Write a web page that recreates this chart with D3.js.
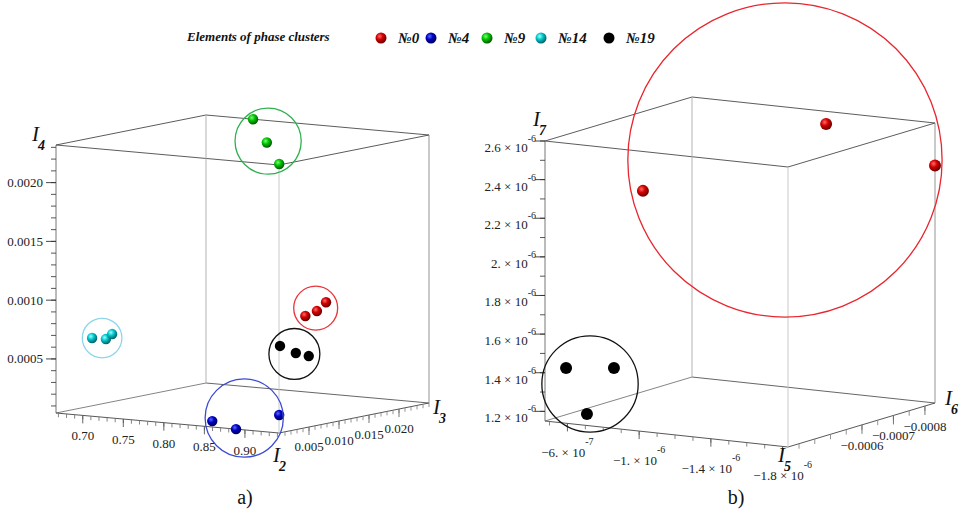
<!DOCTYPE html>
<html><head><meta charset="utf-8">
<script src="https://cdn.jsdelivr.net/npm/d3@7"></script>
<style>
body{margin:0;background:#fff;}
svg{display:block;font-family:"Liberation Serif","Times New Roman",serif;}
</style>
</head><body>
<svg id="chart" width="959" height="517"></svg>
<script>
// ---- data -------------------------------------------------------------
const clusterNames = ["№0", "№4", "№9", "№14", "№19"];

// panel a) : invariants I2, I3, I4 of the cluster elements
const aCluster = ["№0","№0","№0","№4","№4","№4","№9","№9","№9","№14","№14","№14","№19","№19","№19"];
const aI2 = [0.919, 0.924, 0.926, 0.856, 0.889, 0.933, 0.725, 0.816, 0.933, 0.693, 0.710, 0.714, 0.934, 0.935, 0.938];
const aI3 = [0.0075, 0.00875, 0.0100, 0.0005, 0.0000, 0.00125, 0.0250, 0.0150, 0.00125, 0.0025, 0.0025, 0.0030, 0.00125, 0.00375, 0.0055];
const aI4 = [0.000945, 0.000977, 0.00104, 0.000083, 0.00004, 0.000175, 0.00232, 0.00228, 0.00231, 0.000669, 0.00067, 0.00071, 0.000763, 0.000678, 0.000636];

// panel b) : invariants I5, I6, I7
const bCluster = ["№0","№0","№0","№19","№19","№19"];
const bI5 = [-1.021e-6, -1.386e-6, -1.83e-6, -4.75e-7, -7.77e-7, -5.51e-7];
const bI6 = [-0.000365, -0.000739, -0.000832, -0.000432, -0.000412, -0.000455];
const bI7 = [2.396e-6, 2.596e-6, 2.38e-6, 1.392e-6, 1.431e-6, 1.15e-6];

// axis ranges
const I2Domain = [0.667, 0.942];
const I3Domain = [0, 0.025];
const I4Domain = [0.00004, 0.00232];
const I5Domain = [-4.75e-7, -1.83e-6];
const I6Domain = [-0.000365, -0.000832];
const I7Domain = [1.15e-6, 2.6e-6];

// tick values and labels
const I2Ticks = [0.70, 0.75, 0.80, 0.85, 0.90];
const I2TickLabels = ["0.70", "0.75", "0.80", "0.85", "0.90"];
const I3Ticks = [0.005, 0.010, 0.015, 0.020];
const I3TickLabels = ["0.005", "0.010", "0.015", "0.020"];
const I4Ticks = [0.0005, 0.0010, 0.0015, 0.0020];
const I4TickLabels = ["0.0005", "0.0010", "0.0015", "0.0020"];
const I5Ticks = [-6e-7, -1e-6, -1.4e-6, -1.8e-6];
const I5TickMant = ["\u22126.", "\u22121.", "\u22121.4", "\u22121.8"];
const I5TickExp = ["-7", "-6", "-6", "-6"];
const I6Ticks = [-0.0006, -0.0007, -0.0008];
const I6TickLabels = ["\u22120.0006", "\u22120.0007", "\u22120.0008"];
const I7Ticks = [1.2e-6, 1.4e-6, 1.6e-6, 1.8e-6, 2.0e-6, 2.2e-6, 2.4e-6, 2.6e-6];
const I7TickMant = ["1.2", "1.4", "1.6", "1.8", "2.", "2.2", "2.4", "2.6"];
const I7TickExp = ["-6", "-6", "-6", "-6", "-6", "-6", "-6", "-6"];

// minor tick steps
const I2Minor = d3.range(67, 95, 1).map(d => d / 100);
const I3Minor = d3.range(1, 26, 1).map(d => d / 1000);
const I4Minor = d3.range(1, 24, 1).map(d => d / 10000);
const I5Minor = d3.range(5, 19, 1).map(d => -d * 1e-7);
const I6Minor = d3.range(8, 17, 1).map(d => -d * 5e-5);
const I7Minor = d3.range(12, 27, 1).map(d => d * 1e-7);

// ---- styles -----------------------------------------------------------
const ballColors = {
  "№0":  ["#ff6a6a", "#d40000", "#6a0000"],
  "№4":  ["#5a6aff", "#0000c4", "#00005a"],
  "№9":  ["#7aff7a", "#00c400", "#005a00"],
  "№14": ["#a0ffff", "#00c8cc", "#006066"],
  "№19": ["#000000", "#000000", "#000000"]
};
const ringStyle = {
  a: {"№0": {c:"#e8343a", dx:0, dy:-1, pad:9}, "№4": {c:"#3a4ad6", dx:-1.5, dy:-4, pad:4},
      "№9": {c:"#2fb050", dx:2, dy:-0.5, pad:6.5}, "№14": {c:"#8ed6ea", dx:0, dy:1.5, pad:9},
      "№19": {c:"#111111", dx:0, dy:3, pad:9}},
  b: {"№0": {c:"#e8262e", dx:-4, dy:2.5, pad:7}, "№19": {c:"#111111", dx:0, dy:-7, pad:18}}
};

const svg = d3.select("#chart");
const defs = svg.append("defs");
Object.entries(ballColors).forEach(([k, c], i) => {
  const g = defs.append("radialGradient").attr("id", "ball" + i)
    .attr("cx", "38%").attr("cy", "35%").attr("r", "65%");
  g.append("stop").attr("offset", "0%").attr("stop-color", c[0]);
  g.append("stop").attr("offset", "45%").attr("stop-color", c[1]);
  g.append("stop").attr("offset", "100%").attr("stop-color", c[2]);
});
const ballFill = k => "url(#ball" + clusterNames.indexOf(k) + ")";

// ---- oblique 3D frame --------------------------------------------------
function frame(o, U, V, W) {
  return (u, v, w) => [o[0] + u * U[0] + v * V[0] + w * W[0],
                       o[1] + u * U[1] + v * V[1] + w * W[1]];
}

function drawBox(g, P) {
  const e = [
    // [from, to, colour]
    [[0,0,1],[1,0,1],"#4a4a4a"], [[1,0,1],[1,1,1],"#4a4a4a"],
    [[1,1,1],[0,1,1],"#4a4a4a"], [[0,1,1],[0,0,1],"#4a4a4a"],
    [[0,1,0],[0,0,0],"#777"],    [[0,1,0],[1,1,0],"#555"],
    [[0,0,0],[1,0,0],"#444"],    [[1,0,0],[1,1,0],"#444"],
    [[0,0,0],[0,0,1],"#666"],    [[0,1,0],[0,1,1],"#aaa"],
    [[1,0,0],[1,0,1],"#c4c4c4"], [[1,1,0],[1,1,1],"#888"]
  ];
  e.forEach(([a, b, c]) => {
    const p = P(...a), q = P(...b);
    g.append("line").attr("x1", p[0]).attr("y1", p[1]).attr("x2", q[0]).attr("y2", q[1])
      .attr("stroke", c).attr("stroke-width", 0.9);
  });
}

function tickLines(g, pts, dx, dy, col) {
  g.selectAll(null).data(pts).join("line")
    .attr("x1", d => d[0]).attr("y1", d => d[1])
    .attr("x2", d => d[0] + dx).attr("y2", d => d[1] + dy)
    .attr("stroke", col).attr("stroke-width", 0.9);
}

function drawBalls(g, P, pts, r) {
  g.selectAll(null).data(pts).join("circle")
    .attr("cx", d => P(d.u, d.v, d.w)[0]).attr("cy", d => P(d.u, d.v, d.w)[1])
    .attr("r", r).attr("fill", d => ballFill(d.k));
}

function drawRings(g, P, pts, styles) {
  Object.entries(styles).forEach(([k, s]) => {
    const xy = pts.filter(d => d.k === k).map(d => P(d.u, d.v, d.w));
    const cx = (d3.min(xy, d => d[0]) + d3.max(xy, d => d[0])) / 2 + s.dx;
    const cy = (d3.min(xy, d => d[1]) + d3.max(xy, d => d[1])) / 2 + s.dy;
    const r = d3.max(xy, d => Math.hypot(d[0] - cx, d[1] - cy)) + s.pad;
    g.append("circle").attr("cx", cx).attr("cy", cy).attr("r", r)
      .attr("fill", "none").attr("stroke", s.c).attr("stroke-width", 1.3);
  });
}

// italic axis name with a bold subscript tucked under its right side
function axisTitle(g, x, y, sub) {
  g.append("text").attr("x", x).attr("y", y)
    .attr("font-size", 21).attr("font-style", "italic").attr("fill", "#111").text("I");
  g.append("text").attr("x", x + 6).attr("y", y + 9)
    .attr("font-size", 14).attr("font-style", "italic").attr("font-weight", "bold")
    .attr("fill", "#111").text(sub);
}

// ---- panel a ------------------------------------------------------------
{
  const g = svg.append("g");
  const P = frame([56, 413], [223, 20], [150, -30], [0, -268]);
  const sx = d3.scaleLinear().domain(I2Domain).range([0, 1]);
  const sy = d3.scaleLinear().domain(I3Domain).range([0, 1]);
  const sz = d3.scaleLinear().domain(I4Domain).range([0, 1]);
  drawBox(g, P);

  // I4 along the left vertical edge
  tickLines(g, I4Minor.map(d => P(0, 0, sz(d))), -5, 0, "#444");
  tickLines(g, I4Ticks.map(d => P(0, 0, sz(d))), -10, 0, "#333");
  g.selectAll(null).data(I4Ticks).join("text")
    .attr("x", d => P(0, 0, sz(d))[0] - 13).attr("y", d => P(0, 0, sz(d))[1] + 4.5)
    .attr("text-anchor", "end").attr("font-size", 13).attr("fill", "#222")
    .text((d, i) => I4TickLabels[i]);

  // I2 along the front-left bottom edge
  tickLines(g, I2Minor.map(d => P(sx(d), 0, 0)), 0, 4, "#777");
  tickLines(g, I2Ticks.map(d => P(sx(d), 0, 0)), 0, 8, "#555");
  g.selectAll(null).data(I2Ticks).join("text")
    .attr("x", d => P(sx(d), 0, 0)[0]).attr("y", d => P(sx(d), 0, 0)[1] + 25)
    .attr("text-anchor", "middle").attr("font-size", 13).attr("fill", "#222")
    .text((d, i) => I2TickLabels[i]);

  // I3 along the front-right bottom edge
  tickLines(g, I3Minor.map(d => P(1, sy(d), 0)), 0, 4, "#888");
  tickLines(g, I3Ticks.map(d => P(1, sy(d), 0)), 0, 8, "#666");
  g.selectAll(null).data(I3Ticks).join("text")
    .attr("x", d => P(1, sy(d), 0)[0]).attr("y", d => P(1, sy(d), 0)[1] + 24)
    .attr("text-anchor", "middle").attr("font-size", 13).attr("fill", "#222")
    .text((d, i) => I3TickLabels[i]);

  axisTitle(g, 32, 141, "4");
  axisTitle(g, 273, 462, "2");
  axisTitle(g, 433, 414, "3");

  const pts = aI2.map((d, i) => ({k: aCluster[i], u: sx(d), v: sy(aI3[i]), w: sz(aI4[i])}));
  drawBalls(g, P, pts, 5.2);
  drawRings(g, P, pts, ringStyle.a);

  g.append("text").attr("x", 245).attr("y", 504).attr("text-anchor", "middle")
    .attr("font-size", 20).attr("fill", "#111").text("a)");
}

// ---- panel b ------------------------------------------------------------
{
  const g = svg.append("g");
  const P = frame([545, 421], [243, 26], [147, -44], [0, -280]);
  const sx = d3.scaleLinear().domain(I5Domain).range([0, 1]);
  const sy = d3.scaleLinear().domain(I6Domain).range([0, 1]);
  const sz = d3.scaleLinear().domain(I7Domain).range([0, 1]);
  drawBox(g, P);

  // I7 along the left vertical edge
  tickLines(g, I7Minor.map(d => P(0, 0, sz(d))), -5, 0, "#444");
  tickLines(g, I7Ticks.map(d => P(0, 0, sz(d))), -10, 0, "#333");
  const t7 = g.selectAll(null).data(I7Ticks).join("text")
    .attr("x", d => P(0, 0, sz(d))[0] - 9).attr("y", d => P(0, 0, sz(d))[1] + 11)
    .attr("text-anchor", "end").attr("font-size", 13).attr("fill", "#222");
  t7.append("tspan").text((d, i) => I7TickMant[i] + " \u00d7 10");
  t7.append("tspan").attr("dy", -10).attr("font-size", 10).text((d, i) => I7TickExp[i]);

  // I5 along the front-left bottom edge
  tickLines(g, I5Minor.map(d => P(sx(d), 0, 0)), 0, 4, "#777");
  tickLines(g, I5Ticks.map(d => P(sx(d), 0, 0)), 0, 8, "#555");
  const t5 = g.selectAll(null).data(I5Ticks).join("text")
    .attr("x", d => P(sx(d), 0, 0)[0]).attr("y", d => P(sx(d), 0, 0)[1] + 34)
    .attr("text-anchor", "middle").attr("font-size", 13).attr("fill", "#222");
  t5.append("tspan").text((d, i) => I5TickMant[i] + " \u00d7 10");
  t5.append("tspan").attr("dy", -12).attr("font-size", 10).text((d, i) => I5TickExp[i]);

  // I6 along the front-right bottom edge
  tickLines(g, I6Minor.map(d => P(1, sy(d), 0)), 0, 5, "#888");
  tickLines(g, I6Ticks.map(d => P(1, sy(d), 0)), 0, 9, "#666");
  g.selectAll(null).data(I6Ticks).join("text")
    .attr("x", d => P(1, sy(d), 0)[0]).attr("y", d => P(1, sy(d), 0)[1] + 25)
    .attr("text-anchor", "middle").attr("font-size", 13).attr("fill", "#222")
    .text((d, i) => I6TickLabels[i]);

  axisTitle(g, 533, 126, "7");
  axisTitle(g, 778, 462, "5");
  axisTitle(g, 945, 405, "6");

  const pts = bI5.map((d, i) => ({k: bCluster[i], u: sx(d), v: sy(bI6[i]), w: sz(bI7[i])}));
  drawBalls(g, P, pts, 6);
  drawRings(g, P, pts, ringStyle.b);

  g.append("text").attr("x", 736).attr("y", 504).attr("text-anchor", "middle")
    .attr("font-size", 20).attr("fill", "#111").text("b)");
}

// ---- legend -------------------------------------------------------------
{
  const g = svg.append("g");
  const markerX = [381, 431, 487, 541, 609];
  g.append("text").attr("x", 187).attr("y", 41)
    .attr("font-size", 13).attr("font-style", "italic").attr("font-weight", "bold")
    .attr("fill", "#111").text("Elements of phase clusters");
  const it = g.selectAll(null).data(clusterNames).join("g")
    .attr("transform", (d, i) => `translate(${markerX[i]},38)`);
  it.append("circle").attr("r", 5.5).attr("fill", d => ballFill(d));
  it.append("text").attr("x", 17).attr("y", 5).attr("font-size", 15)
    .attr("font-style", "italic").attr("font-weight", "bold").attr("fill", "#111").text(d => d);
}
</script>
</body></html>
